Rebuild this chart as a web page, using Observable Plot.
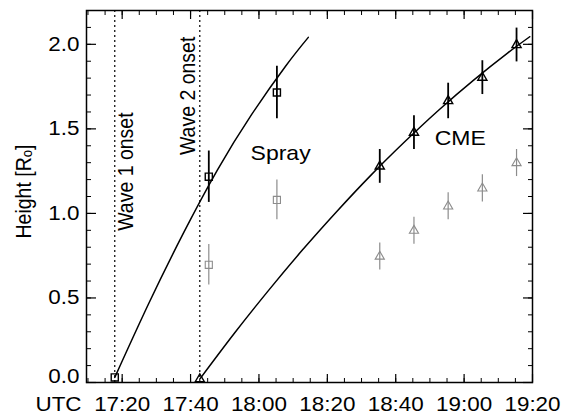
<!DOCTYPE html>
<html>
<head>
<meta charset="utf-8">
<script src="https://cdn.jsdelivr.net/npm/d3@7"></script>
<script src="https://cdn.jsdelivr.net/npm/@observablehq/plot@0.6"></script>
<style>
  html, body { margin: 0; padding: 0; background: #fff; }
  #chart svg { display: block; }
</style>
</head>
<body>
<div id="chart"></div>
<script>
// ---------- data ----------
const xDomain = ["17:09:34", "19:20:00"];
const yDomain = [0, 2.2];
const xMajorTicks = ["17:20", "17:40", "18:00", "18:20", "18:40", "19:00", "19:20"];
const yMajorTicks = [0, 0.5, 1.0, 1.5, 2.0];
const yLabel = "Height [Rₒ]";
const xLabel = "UTC";

const waveOnsetTimes = ["17:17:50", "17:42:42"];
const waveLabels = ["Wave 1 onset", "Wave 2 onset"];
const waveLabelHeights = [1.247, 1.695];
const waveLabelOffsets = [11, -12];

const sprayTimes = ["17:17:50", "17:45:20", "18:05:15"];
const sprayHeights = [0.03, 1.217, 1.715];
const sprayErrors = [0, 0.152, 0.155];
const sprayGrayTimes = ["17:45:20", "18:05:15"];
const sprayGrayHeights = [0.696, 1.08];
const sprayGrayErrors = [0.12, 0.118];

const cmeTimes = ["17:42:42", "18:35:20", "18:45:20", "18:55:20", "19:05:20", "19:15:20"];
const cmeHeights = [0.02, 1.278, 1.478, 1.665, 1.803, 1.996];
const cmeErrors = [0, 0.10, 0.10, 0.105, 0.10, 0.10];
const cmeGrayTimes = ["18:35:20", "18:45:20", "18:55:20", "19:05:20", "19:15:20"];
const cmeGrayHeights = [0.745, 0.898, 1.042, 1.148, 1.298];
const cmeGrayErrors = [0.08, 0.08, 0.08, 0.08, 0.08];

const sprayFitTimes = ["17:17:50", "17:27:50", "17:37:50", "17:47:50", "17:57:50", "18:07:50", "18:14:26"];
const sprayFitHeights = [0.03, 0.47, 0.88, 1.256, 1.584, 1.872, 2.041];
const cmeFitTimes = ["17:42:42", "17:52:42", "18:02:42", "18:12:42", "18:22:42", "18:32:42", "18:42:42", "18:52:42", "19:02:42", "19:12:42", "19:19:12"];
const cmeFitHeights = [0.02, 0.288, 0.542, 0.783, 1.010, 1.225, 1.425, 1.613, 1.787, 1.948, 2.045];

const curveLabels = ["Spray", "CME"];
const curveLabelTimes = ["18:06:20", "18:58:52"];
const curveLabelHeights = [1.355, 1.441];

// ---------- helpers ----------
const T = s => new Date("2000-01-01T" + (s.length === 5 ? s + ":00" : s) + "Z");
const pts = (ts, hs, es) => ts.map((t, i) => ({t: T(t), h: hs[i], e: es ? es[i] : 0}));

const spray = pts(sprayTimes, sprayHeights, sprayErrors);
const sprayGray = pts(sprayGrayTimes, sprayGrayHeights, sprayGrayErrors);
const cme = pts(cmeTimes, cmeHeights, cmeErrors);
const cmeGray = pts(cmeGrayTimes, cmeGrayHeights, cmeGrayErrors);
const sprayFit = pts(sprayFitTimes, sprayFitHeights);
const cmeFit = pts(cmeFitTimes, cmeFitHeights);
const waves = waveOnsetTimes.map((t, i) => ({t: T(t), label: waveLabels[i], h: waveLabelHeights[i]}));
const curveText = curveLabels.map((l, i) => ({t: T(curveLabelTimes[i]), h: curveLabelHeights[i], label: l}));

const xMajor = xMajorTicks.map(T);
const xMinor = d3.utcMinute.every(5).range(T(xDomain[0]), T("19:20:01"));
const yMinor = d3.range(0, 2.201, 0.1);
const gray = "#8c8c8c";
const blank = () => "";
const FS = 19.5;

const chart = Plot.plot({
  width: 562,
  height: 416,
  marginLeft: 86,
  marginRight: 30,
  marginTop: 10,
  marginBottom: 34,
  style: {fontFamily: "'Liberation Sans', Arial, Helvetica, sans-serif", fontSize: FS + "px", background: "#fff", color: "#000"},
  x: {type: "utc", domain: xDomain.map(T)},
  y: {domain: yDomain},
  marks: [
    // wave onset dotted lines
    Plot.ruleX(waves, {x: "t", stroke: "#000", strokeWidth: 1.2, strokeDasharray: "2,3"}),
    Plot.text(waves.slice(0, 1), {x: "t", y: "h", text: "label", rotate: -90, dx: waveLabelOffsets[0], fontSize: FS, textAnchor: "middle"}),
    Plot.text(waves.slice(1, 2), {x: "t", y: "h", text: "label", rotate: -90, dx: waveLabelOffsets[1], fontSize: FS, textAnchor: "middle"}),
    // fits
    Plot.line(sprayFit, {x: "t", y: "h", curve: "natural", stroke: "#000", strokeWidth: 1.5}),
    Plot.line(cmeFit, {x: "t", y: "h", curve: "natural", stroke: "#000", strokeWidth: 1.5}),
    // gray measurements
    Plot.ruleX(sprayGray, {x: "t", y1: d => d.h - d.e, y2: d => d.h + d.e, stroke: gray, strokeWidth: 1.2}),
    Plot.dot(sprayGray, {x: "t", y: "h", symbol: "square", r: 4, stroke: gray, strokeWidth: 1.1, fill: "none"}),
    Plot.ruleX(cmeGray, {x: "t", y1: d => d.h - d.e, y2: d => d.h + d.e, stroke: gray, strokeWidth: 1.2}),
    Plot.dot(cmeGray, {x: "t", y: "h", symbol: "triangle", r: 3.4, stroke: gray, strokeWidth: 1.1, fill: "none"}),
    // black measurements
    Plot.ruleX(spray.filter(d => d.e > 0), {x: "t", y1: d => d.h - d.e, y2: d => d.h + d.e, stroke: "#000", strokeWidth: 1.8}),
    Plot.dot(spray, {x: "t", y: "h", symbol: "square", r: 4, stroke: "#000", strokeWidth: 1.4, fill: "none"}),
    Plot.ruleX(cme.filter(d => d.e > 0), {x: "t", y1: d => d.h - d.e, y2: d => d.h + d.e, stroke: "#000", strokeWidth: 1.8}),
    Plot.dot(cme, {x: "t", y: "h", symbol: "triangle", r: 3.4, stroke: "#000", strokeWidth: 1.4, fill: "none"}),
    // curve labels
    Plot.text(curveText, {x: "t", y: "h", text: "label", fontSize: FS + 0.5, textAnchor: "middle"}),
    // axes: inward ticks on all four sides
    Plot.axisX({anchor: "bottom", ticks: xMajor, tickSize: -8, tickPadding: 23, tickFormat: d3.utcFormat("%H:%M"), label: null, strokeWidth: 1.2, fontSize: FS}),
    Plot.axisX({anchor: "bottom", ticks: xMinor, tickSize: -4, tickFormat: blank, label: null}),
    Plot.axisX({anchor: "top", ticks: xMajor, tickSize: -8, tickFormat: blank, label: null, strokeWidth: 1.2}),
    Plot.axisX({anchor: "top", ticks: xMinor, tickSize: -4, tickFormat: blank, label: null}),
    Plot.axisY({anchor: "left", ticks: yMajorTicks, tickSize: -10, tickFormat: blank, label: null, strokeWidth: 1.2}),
    Plot.axisY({anchor: "left", ticks: yMinor, tickSize: -5, tickFormat: blank, label: null}),
    Plot.axisY({anchor: "left", ticks: yMajorTicks.slice(1), tickSize: 0, tickPadding: 7, tickFormat: d3.format(".1f"), label: null, fontSize: FS}),
    Plot.axisY({anchor: "left", ticks: yMajorTicks.slice(0, 1), tickSize: 0, tickPadding: 7, tickFormat: d3.format(".1f"), label: null, dy: -6, fontSize: FS}),
    Plot.axisY({anchor: "right", ticks: yMajorTicks, tickSize: -10, tickFormat: blank, label: null, strokeWidth: 1.2}),
    Plot.axisY({anchor: "right", ticks: yMinor, tickSize: -5, tickFormat: blank, label: null}),
    Plot.frame({stroke: "#000", strokeWidth: 1.5}),
    // axis titles
    Plot.text([yLabel], {frameAnchor: "left", rotate: -90, dx: -63, dy: -5, fontSize: FS, textAnchor: "middle", lineAnchor: "middle"}),
    Plot.text([xLabel], {frameAnchor: "bottom-left", dx: -28, dy: 22.5, fontSize: FS, textAnchor: "middle", lineAnchor: "middle"})
  ]
});

// stretch glyphs horizontally like the reference's wide sans-serif
const SX = 1.15;
chart.querySelectorAll("text").forEach(t => {
  if (!t.textContent) return;
  let tr = t.getAttribute("transform");
  if (!tr) {
    const x = +t.getAttribute("x") || 0, y = +t.getAttribute("y") || 0;
    t.removeAttribute("x"); t.removeAttribute("y");
    tr = `translate(${x},${y})`;
  }
  t.setAttribute("transform", tr + (/rotate/.test(tr) ? ` scale(1,${SX})` : ` scale(${SX},1)`));
});

document.getElementById("chart").appendChild(chart);
</script>
</body>
</html>
